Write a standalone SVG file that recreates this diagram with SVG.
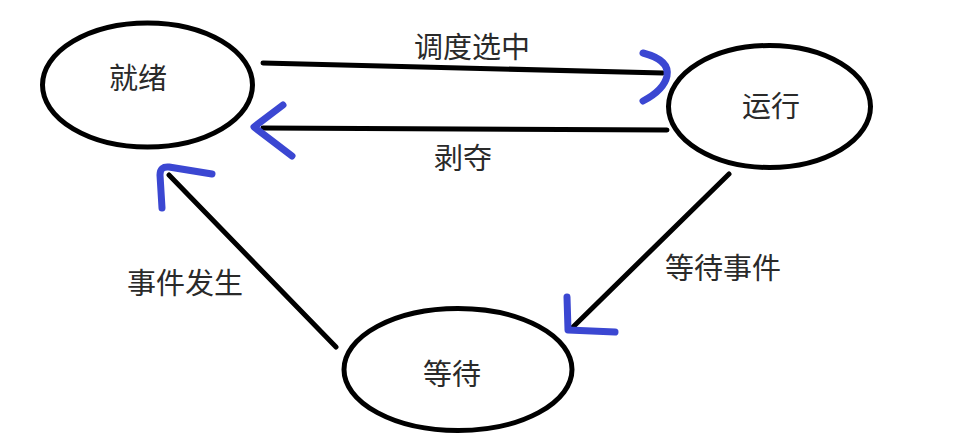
<svg xmlns="http://www.w3.org/2000/svg" width="963" height="445" viewBox="0 0 963 445">
<style>
.node{fill:#fff;stroke:#000;stroke-width:5}
.t{font-family:"Noto Sans CJK SC","Noto Sans",sans-serif;font-size:29px;fill:#2a2a2a;text-anchor:middle;dominant-baseline:central}
.edge{stroke:#000;stroke-width:5;fill:none;stroke-linecap:round}
.head{stroke:#3b47d2;stroke-width:7;fill:none;stroke-linecap:round;stroke-linejoin:round}
</style>
<rect width="963" height="445" fill="#fff"/>
<g id="ready"><ellipse class="node" cx="147.5" cy="85" rx="105" ry="62"/><text class="t" x="138" y="76">就绪</text></g>
<g id="running"><ellipse class="node" cx="769.5" cy="106.5" rx="101" ry="61"/><text class="t" x="771" y="104">运行</text></g>
<g id="waiting"><ellipse class="node" cx="458" cy="369.5" rx="114" ry="61"/><text class="t" x="452" y="372">等待</text></g>
<g id="connectors">
<line class="edge" x1="263" y1="63" x2="663" y2="73"/>
<path class="head" d="M643,53 Q670,60 667,76 Q664,90 643,101"/>
<line class="edge" x1="667" y1="130" x2="263" y2="128"/>
<path class="head" d="M283,105 L254,127 L292,156"/>
<line class="edge" x1="729" y1="174" x2="572" y2="328"/>
<path class="head" d="M567,297 L568,330 L615,332"/>
<line class="edge" x1="336" y1="347" x2="169" y2="175"/>
<path class="head" d="M162,208 L160,175 Q160,166 169,167 L212,174"/>
<text class="t" x="472" y="45">调度选中</text>
<text class="t" x="463" y="156">剥夺</text>
<text class="t" x="723" y="266">等待事件</text>
<text class="t" x="185" y="281">事件发生</text>
</g>
</svg>
